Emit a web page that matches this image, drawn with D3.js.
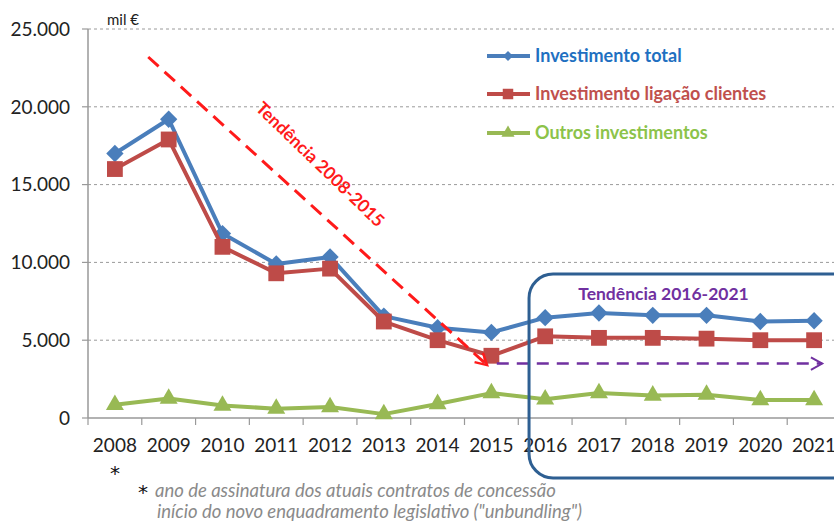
<!DOCTYPE html>
<head>
<meta charset="utf-8">
<title>Investimento 2008-2021</title>
<script src="https://cdn.jsdelivr.net/npm/d3@7"></script>
<style>
body { margin: 0; background: #fff; }
svg { display: block; font-family: Lato, "Open Sans", sans-serif; }
</style>
</head>
<body>
<div id="container"></div>
<script>
// data (mil €)
const years = ["2008","2009","2010","2011","2012","2013","2014","2015","2016","2017","2018","2019","2020","2021"];
const invTotal = [17000,19200,11850,9900,10350,6550,5800,5500,6450,6750,6600,6600,6200,6250];
const invLigacao = [16000,17900,11000,9300,9600,6200,5000,4000,5250,5150,5150,5100,5000,5000];
const outrosInv = [850,1250,800,600,700,250,900,1600,1200,1600,1450,1500,1150,1150];
const yTicks = [0,5000,10000,15000,20000,25000];

const series = [
  {name: "Investimento total", values: invTotal, color: "#4a7ebb", text: "#1f70c1", symbol: "diamond"},
  {name: "Investimento ligação clientes", values: invLigacao, color: "#be4b48", text: "#c0504d", symbol: "square"},
  {name: "Outros investimentos", values: outrosInv, color: "#98b954", text: "#8cc34a", symbol: "triangle"}
];

//*******************
//setup svg
//*******************
const W = 834, H = 521;
const svg = d3.select("#container").append("svg")
  .attr("width", W).attr("height", H);

// x: category index -> pixel (index i centered in its band)
const x = d3.scaleLinear().domain([-0.5, years.length - 0.5]).range([88, 841]);
const y = d3.scaleLinear().domain([0, 25000]).range([418, 29]);

const fmt = d3.formatLocale({decimal: ",", thousands: ".", grouping: [3], currency: ["", "€"]}).format(",");

// gridlines
svg.append("g").selectAll("line")
  .data(yTicks.filter(d => d > 0))
  .join("line")
  .attr("x1", x(-0.5)).attr("x2", W)
  .attr("y1", d => y(d)).attr("y2", d => y(d))
  .attr("stroke", "#9a9a9a").attr("stroke-width", 1)
  .attr("stroke-dasharray", "3,3");

// y axis
svg.append("line")
  .attr("x1", x(-0.5)).attr("x2", x(-0.5))
  .attr("y1", y(25000)).attr("y2", y(0))
  .attr("stroke", "#999").attr("stroke-width", 1.5);

svg.append("g").selectAll("line")
  .data(yTicks)
  .join("line")
  .attr("x1", x(-0.5) - 6).attr("x2", x(-0.5))
  .attr("y1", d => y(d)).attr("y2", d => y(d))
  .attr("stroke", "#999").attr("stroke-width", 1.2);

svg.append("g").selectAll("text")
  .data(yTicks)
  .join("text")
  .attr("x", 70).attr("y", d => y(d))
  .attr("dy", "0.36em")
  .attr("text-anchor", "end")
  .attr("fill", "#222")
  .style("font-size", "19px")
  .text(d => fmt(d));

svg.append("text")
  .attr("x", 107).attr("y", 25)
  .attr("fill", "#222")
  .style("font-size", "15px")
  .text("mil €");

// x axis
svg.append("line")
  .attr("x1", x(-0.5)).attr("x2", W)
  .attr("y1", y(0)).attr("y2", y(0))
  .attr("stroke", "#999").attr("stroke-width", 1.5);

svg.append("g").selectAll("line")
  .data(years)
  .join("line")
  .attr("x1", (d, i) => x(i - 0.5)).attr("x2", (d, i) => x(i - 0.5))
  .attr("y1", y(0)).attr("y2", y(0) + 7)
  .attr("stroke", "#999").attr("stroke-width", 1.2);

svg.append("g").selectAll("text")
  .data(years)
  .join("text")
  .attr("x", (d, i) => x(i)).attr("y", 452)
  .attr("text-anchor", "middle")
  .attr("fill", "#222")
  .style("font-size", "19px")
  .text(d => d);

//*******************
//draw series
//*******************
const line = d3.line()
  .x((d, i) => x(i))
  .y(d => y(d));

function symbolPath(kind, big) {
  if (kind === "diamond") return d3.symbol(d3.symbolSquare, big ? 150 : 50)();
  if (kind === "square") return d3.symbol(d3.symbolSquare, big ? 250 : 110)();
  return d3.symbol(d3.symbolTriangle, big ? 140 : 75)();
}

series.forEach(s => {
  const g = svg.append("g");
  g.append("path")
    .attr("d", line(s.values))
    .attr("fill", "none")
    .attr("stroke", s.color)
    .attr("stroke-width", 4)
    .attr("stroke-linejoin", "round");
  g.selectAll("path.mk")
    .data(s.values)
    .join("path")
    .attr("class", "mk")
    .attr("d", symbolPath(s.symbol, true))
    .attr("transform", (d, i) => "translate(" + x(i) + "," + y(d) + ")" + (s.symbol === "diamond" ? " rotate(45)" : ""))
    .attr("fill", s.color);
});

//**********************
//legend
//**********************
const legY = [56, 94, 133];
series.forEach((s, k) => {
  svg.append("line")
    .attr("x1", 487).attr("x2", 530)
    .attr("y1", legY[k]).attr("y2", legY[k])
    .attr("stroke", s.color).attr("stroke-width", 4);
  svg.append("path")
    .attr("d", symbolPath(s.symbol, false))
    .attr("transform", "translate(508," + legY[k] + ")" + (s.symbol === "diamond" ? " rotate(45)" : ""))
    .attr("fill", s.color);
  svg.append("text")
    .attr("x", 535).attr("y", legY[k])
    .attr("dy", "0.35em")
    .attr("fill", s.text)
    .style("font-size", "18px")
    .style("font-weight", "bold")
    .text(s.name);
});

//**********************
//trend annotations
//**********************
const defs = svg.append("defs");
defs.append("marker")
  .attr("id", "arrRed").attr("viewBox", "0 0 12 12")
  .attr("refX", 10).attr("refY", 6)
  .attr("markerWidth", 5).attr("markerHeight", 5)
  .attr("markerUnits", "strokeWidth")
  .attr("orient", "auto")
  .append("path").attr("d", "M1,1 L10,6 L1,11")
  .attr("fill", "none").attr("stroke", "#ff1a1a").attr("stroke-width", 2);
defs.append("marker")
  .attr("id", "arrPurple").attr("viewBox", "0 0 12 12")
  .attr("refX", 10).attr("refY", 6)
  .attr("markerWidth", 6).attr("markerHeight", 6)
  .attr("markerUnits", "strokeWidth")
  .attr("orient", "auto")
  .append("path").attr("d", "M1,1 L10,6 L1,11")
  .attr("fill", "none").attr("stroke", "#7030a0").attr("stroke-width", 1.6);

// trend 2008-2015 (index, value)
const trend1 = [[0.62, 23200], [6.92, 3400]];
svg.append("line")
  .attr("x1", x(trend1[0][0])).attr("y1", y(trend1[0][1]))
  .attr("x2", x(trend1[1][0])).attr("y2", y(trend1[1][1]))
  .attr("stroke", "#ff1a1a").attr("stroke-width", 3)
  .attr("stroke-dasharray", "14,8")
  .attr("marker-end", "url(#arrRed)");

svg.append("text")
  .attr("transform", "translate(" + x(3.82) + "," + y(16300) + ") rotate(44)")
  .attr("text-anchor", "middle")
  .attr("dy", "0.35em")
  .attr("fill", "#ff1a1a")
  .style("font-size", "17.5px")
  .style("font-weight", "bold")
  .text("Tendência 2008-2015");

// trend 2016-2021
const trend2 = [[7.1, 3500], [13.15, 3500]];
svg.append("line")
  .attr("x1", x(trend2[0][0])).attr("y1", y(trend2[0][1]))
  .attr("x2", x(trend2[1][0])).attr("y2", y(trend2[1][1]))
  .attr("stroke", "#7030a0").attr("stroke-width", 2.5)
  .attr("stroke-dasharray", "12,8")
  .attr("marker-end", "url(#arrPurple)");

svg.append("text")
  .attr("x", x(10.2)).attr("y", y(7950))
  .attr("text-anchor", "middle")
  .attr("dy", "0.35em")
  .attr("fill", "#7030a0")
  .style("font-size", "17.5px")
  .style("font-weight", "bold")
  .text("Tendência 2016-2021");

// box around 2016-2021
const box = {i0: 7.7, i1: 14, v0: 9250, v1: -3850};
svg.append("rect")
  .attr("x", x(box.i0)).attr("y", y(box.v0))
  .attr("width", x(box.i1) - x(box.i0))
  .attr("height", y(box.v1) - y(box.v0))
  .attr("rx", 24).attr("ry", 24)
  .attr("fill", "none")
  .attr("stroke", "#2e5f92").attr("stroke-width", 3);

//**********************
//footnote
//**********************
svg.append("text")
  .attr("x", x(0)).attr("y", 480)
  .attr("text-anchor", "middle")
  .attr("fill", "#111")
  .style("font-family", "'DejaVu Sans', sans-serif")
  .style("font-size", "20px")
  .text("*");

svg.append("text")
  .attr("x", 143).attr("y", 499)
  .attr("text-anchor", "middle")
  .attr("fill", "#111")
  .style("font-family", "'DejaVu Sans', sans-serif")
  .style("font-size", "20px")
  .text("*");

svg.append("text")
  .attr("x", 155).attr("y", 497)
  .attr("fill", "#8a8a8a")
  .style("font-size", "18.5px")
  .style("font-style", "italic")
  .text("ano de assinatura dos atuais contratos de concessão");

svg.append("text")
  .attr("x", 157).attr("y", 518)
  .attr("fill", "#8a8a8a")
  .style("font-size", "18.5px")
  .style("font-style", "italic")
  .text("início do novo enquadramento legislativo (\"unbundling\")");
</script>
</body>
